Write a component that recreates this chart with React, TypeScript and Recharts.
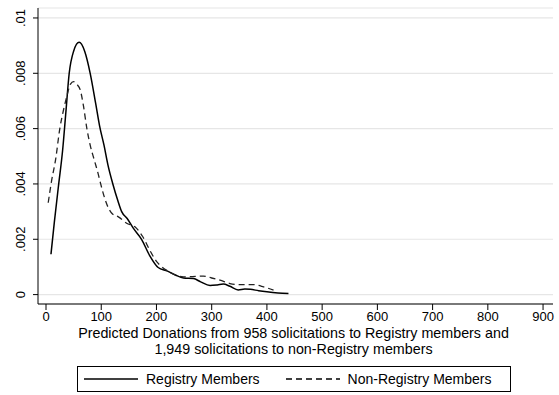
import { LineChart, Line, XAxis, YAxis, CartesianGrid, Legend } from "recharts";

const FONT = '"Liberation Sans", Arial, sans-serif';

// Registry members density (solid)
const registryX = [9, 15, 23, 30, 36, 42, 50, 60, 70, 80, 90, 97, 105, 112, 121, 130, 137, 147, 158, 173, 188, 203, 220, 235, 249, 267, 280, 297, 310, 321, 333, 348, 360, 370, 385, 400, 420, 439];
const registryY = [0.00146, 0.0026, 0.004, 0.0052, 0.0066, 0.008, 0.0088, 0.00912, 0.0088, 0.008, 0.0069, 0.0061, 0.0054, 0.0047, 0.004, 0.0034, 0.003, 0.00275, 0.0024, 0.002, 0.0014, 0.00098, 0.00085, 0.0007, 0.0006, 0.00058, 0.00046, 0.00033, 0.00035, 0.00038, 0.0003, 0.00017, 0.0002, 0.00019, 0.00014, 0.0001, 0.00006, 0.00004];

// Non-registry members density (dashed)
const nonRegistryX = [4, 10, 17.5, 25, 32, 37.5, 44, 50, 56, 62, 68, 74, 80, 87.5, 94, 99, 106, 113, 120, 131, 146, 161, 175, 188, 200, 210, 225, 249, 265, 285, 300, 315, 333, 350, 375, 394, 412];
const nonRegistryY = [0.00332, 0.0041, 0.0049, 0.006, 0.0067, 0.00715, 0.0076, 0.0077, 0.0076, 0.0074, 0.0068, 0.006, 0.0054, 0.00486, 0.0044, 0.004, 0.0035, 0.00313, 0.00292, 0.00281, 0.00258, 0.00245, 0.0021, 0.0016, 0.0012, 0.001, 0.0008, 0.00064, 0.00065, 0.00067, 0.0006, 0.00052, 0.0004, 0.00036, 0.00036, 0.00028, 0.00016];

const xTicks = [0, 100, 200, 300, 400, 500, 600, 700, 800, 900];
const yTicks = [0, 0.002, 0.004, 0.006, 0.008, 0.01];

const xLabelLines = [
  "Predicted Donations from 958 solicitations to Registry members and",
  "1,949 solicitations to non-Registry members",
];

const seriesNames = ["Registry Members", "Non-Registry Members"];

const registryData = registryX.map((x, i) => ({ x, y: registryY[i] }));
const nonRegistryData = nonRegistryX.map((x, i) => ({ x, y: nonRegistryY[i] }));

const fmtY = (v: number) => (v === 0 ? "0" : String(v).replace(/^0/, ""));

const YTick = (props: any) => {
  const { y, payload } = props;
  const bx = 25;
  return (
    <text
      x={bx}
      y={y}
      transform={`rotate(-90, ${bx}, ${y})`}
      textAnchor="middle"
      fontSize={13}
      fontFamily={FONT}
      fill="#000"
    >
      {fmtY(payload.value)}
    </text>
  );
};

const XLabel = (props: any) => {
  const { viewBox } = props;
  const cx = viewBox.x + viewBox.width / 2 - 2;
  return (
    <g>
      {xLabelLines.map((t, i) => (
        <text key={i} x={cx} y={338 + i * 16} textAnchor="middle" fontSize={14.3} fontFamily={FONT} fill="#000">
          {t}
        </text>
      ))}
    </g>
  );
};

const LegendBox = () => (
  <div
    style={{
      width: 434,
      height: 26,
      border: "1px solid #000",
      boxSizing: "border-box",
      display: "flex",
      alignItems: "center",
      fontFamily: FONT,
      fontSize: 14,
      color: "#000",
      background: "#fff",
    }}
  >
    <svg width={62} height={10} style={{ marginLeft: 6 }}>
      <line x1={0} y1={5} x2={54} y2={5} stroke="#000" strokeWidth={1.3} />
    </svg>
    <span>{seriesNames[0]}</span>
    <svg width={62} height={10} style={{ marginLeft: 26 }}>
      <line x1={0} y1={5} x2={54} y2={5} stroke="#000" strokeWidth={1.3} strokeDasharray="6 4" />
    </svg>
    <span>{seriesNames[1]}</span>
  </div>
);

export default function App() {
  return (
    <div style={{ position: "absolute", left: 0, top: 0, width: 559, height: 395, background: "#fff" }}>
      <LineChart width={559} height={395} margin={{ top: 8, right: 6, bottom: 31, left: 0 }}>
        <CartesianGrid vertical={false} stroke="#e6e6e6" strokeWidth={1.2} />
        <XAxis
          type="number"
          dataKey="x"
          domain={[-14.5, 918]}
          ticks={xTicks}
          allowDataOverflow
          height={60}
          tickSize={6}
          tickMargin={2}
          stroke="#000"
          tick={{ fontSize: 13, fontFamily: FONT, fill: "#000" }}
          label={<XLabel />}
        />
        <YAxis
          type="number"
          dataKey="y"
          domain={[-0.00034, 0.01036]}
          ticks={yTicks}
          allowDataOverflow
          width={38}
          tickSize={5}
          stroke="#000"
          tick={<YTick />}
        />
        <Legend
          verticalAlign="middle"
          align="center"
          content={<LegendBox />}
          wrapperStyle={{ top: 366, left: 77, width: 434 }}
        />
        <Line
          data={registryData}
          dataKey="y"
          name={seriesNames[0]}
          type="monotone"
          stroke="#000"
          strokeWidth={1.5}
          dot={false}
          isAnimationActive={false}
        />
        <Line
          data={nonRegistryData}
          dataKey="y"
          name={seriesNames[1]}
          type="monotone"
          stroke="#222"
          strokeWidth={1.3}
          strokeDasharray="6 4"
          dot={false}
          isAnimationActive={false}
        />
      </LineChart>
    </div>
  );
}
